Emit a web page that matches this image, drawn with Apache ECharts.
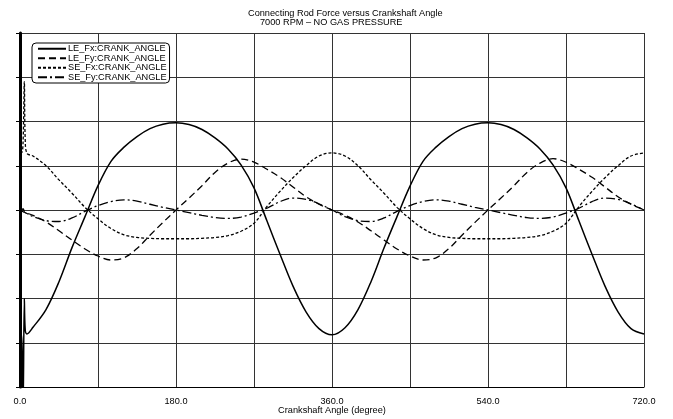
<!DOCTYPE html>
<html>
<head>
<meta charset="utf-8">
<script src="https://cdn.jsdelivr.net/npm/echarts@6/dist/echarts.min.js"></script>
<style>
html,body{margin:0;padding:0;background:#fff;}
#chart{width:673px;height:419px;}
</style>
</head>
<body>
<div id="chart"></div>
<script>
// Crank angle (degree)
var angles = [0, 2, 3.5, 5, 6, 8,
  15, 30, 45, 60, 75, 90, 105, 120, 135, 150, 165, 180,
  195, 210, 225, 240, 255, 270, 285, 300, 315, 330, 345, 360,
  375, 390, 405, 420, 435, 450, 465, 480, 495, 510, 525, 540,
  555, 570, 585, 600, 615, 630, 645, 660, 675, 690, 705, 720];

var leFx = [-2.83, -2.83, -4.6, -2.0, -2.7, -2.8,
  -2.65, -2.25, -1.62, -0.85, -0.15, 0.55, 1.1, 1.42, 1.66, 1.84, 1.94, 1.97,
  1.93, 1.82, 1.63, 1.38, 1.02, 0.5, -0.25, -1.0, -1.72, -2.3, -2.68, -2.82,
  -2.66, -2.25, -1.62, -0.86, -0.15, 0.54, 1.1, 1.42, 1.66, 1.84, 1.94, 1.97,
  1.93, 1.82, 1.63, 1.38, 1.02, 0.5, -0.25, -1.0, -1.72, -2.3, -2.68, -2.8];

var leFy = [0, 0, 0.03, -0.03, -0.05, -0.07,
  -0.12, -0.27, -0.47, -0.68, -0.88, -1.04, -1.13, -1.08, -0.87, -0.57, -0.28, 0,
  0.27, 0.55, 0.85, 1.06, 1.15, 1.08, 0.92, 0.74, 0.52, 0.3, 0.13, 0,
  -0.12, -0.27, -0.47, -0.68, -0.88, -1.04, -1.13, -1.08, -0.87, -0.57, -0.28, 0,
  0.27, 0.55, 0.85, 1.06, 1.16, 1.08, 0.92, 0.74, 0.52, 0.3, 0.13, 0];

var seFx = [1.3, 1.3, 1.5, 2.9, 1.6, 1.28,
  1.22, 1.0, 0.68, 0.38, 0.06, -0.2, -0.42, -0.56, -0.62, -0.64, -0.65, -0.65,
  -0.65, -0.64, -0.62, -0.58, -0.48, -0.3, 0.08, 0.42, 0.73, 1.0, 1.22, 1.29,
  1.22, 1.0, 0.68, 0.38, 0.06, -0.2, -0.42, -0.56, -0.62, -0.64, -0.65, -0.65,
  -0.65, -0.64, -0.62, -0.58, -0.48, -0.3, 0.08, 0.42, 0.73, 1.0, 1.22, 1.29];

var seFy = [0, -0.02, -0.04, -0.05, -0.06, -0.08,
  -0.15, -0.24, -0.26, -0.18, -0.03, 0.1, 0.19, 0.23, 0.2, 0.13, 0.06, 0,
  -0.06, -0.12, -0.17, -0.19, -0.16, -0.07, 0.04, 0.19, 0.27, 0.24, 0.14, 0,
  -0.15, -0.24, -0.26, -0.18, -0.03, 0.1, 0.19, 0.23, 0.2, 0.13, 0.06, 0,
  -0.06, -0.12, -0.17, -0.19, -0.16, -0.07, 0.04, 0.19, 0.27, 0.24, 0.14, 0];

var seriesNames = ['LE_Fx:CRANK_ANGLE', 'LE_Fy:CRANK_ANGLE', 'SE_Fx:CRANK_ANGLE', 'SE_Fy:CRANK_ANGLE'];
var titleLine1 = 'Connecting Rod Force versus Crankshaft Angle';
var titleLine2 = '7000 RPM \u2013 NO GAS PRESSURE';
var xAxisName = 'Crankshaft Angle (degree)';

function pairs(vals) {
  return angles.map(function (a, i) { return [a, vals[i]]; });
}

var FONT = 'Liberation Sans, Arial, sans-serif';
var styles = [
  { type: 'solid', width: 1.5 },
  { type: [7, 4], width: 1.3 },
  { type: [3, 2], width: 1.3 },
  { type: [9, 3, 2, 3], width: 1.3 }
];
var allVals = [leFx, leFy, seFx, seFy];

var chart = echarts.init(document.getElementById('chart'), null, { renderer: 'canvas' });
chart.setOption({
  animation: false,
  backgroundColor: '#fff',
  title: [
    { text: titleLine1, left: 248, top: 9, padding: 0,
      textStyle: { fontFamily: FONT, fontSize: 9.2, fontWeight: 'normal', color: '#000' } },
    { text: titleLine2, left: 260, top: 18, padding: 0,
      textStyle: { fontFamily: FONT, fontSize: 9.2, fontWeight: 'normal', color: '#000' } }
  ],
  legend: {
    orient: 'vertical',
    left: 32, top: 43,
    padding: [1, 3, 1, 5],
    itemGap: 0,
    itemWidth: 28, itemHeight: 9.5,
    borderColor: '#000', borderWidth: 1, borderRadius: 4,
    backgroundColor: '#fff',
    itemStyle: { opacity: 0 },
    textStyle: { fontFamily: FONT, fontSize: 9.2, color: '#000', padding: [0, 0, 0, -3], lineHeight: 9.5 },
    data: seriesNames
  },
  grid: { left: 20, right: 29, top: 33, bottom: 32, containLabel: false, outerBoundsMode: 'none' },
  xAxis: {
    type: 'value', min: 0, max: 720, interval: 90,
    name: xAxisName, nameLocation: 'middle', nameGap: 19, nameMoveOverlap: false,
    nameTextStyle: { fontFamily: FONT, fontSize: 9.2, color: '#000' },
    axisLine: { show: true, onZero: false, lineStyle: { color: '#000', width: 1 } },
    axisTick: { show: false },
    axisLabel: { margin: 10, fontFamily: FONT, fontSize: 9.2, color: '#000',
      formatter: function (v) { return v % 180 === 0 ? v.toFixed(1) : ''; } },
    splitLine: { show: true, lineStyle: { color: '#333', width: 1 } }
  },
  yAxis: {
    type: 'value', min: -4, max: 4, interval: 1,
    axisLine: { show: true, onZero: false, lineStyle: { color: '#000', width: 3 } },
    axisTick: { show: true, length: 4, lineStyle: { color: '#000', width: 1 } },
    axisLabel: { show: false },
    splitLine: { show: true, lineStyle: { color: '#333', width: 1 } }
  },
  series: seriesNames.map(function (n, i) {
    return {
      name: n, type: 'line', data: pairs(allVals[i]),
      symbol: 'none', smooth: 0.35, clip: true,
      lineStyle: { color: '#000', width: styles[i].width, type: styles[i].type },
      itemStyle: { color: '#000' }
    };
  })
});
</script>
</body>
</html>
